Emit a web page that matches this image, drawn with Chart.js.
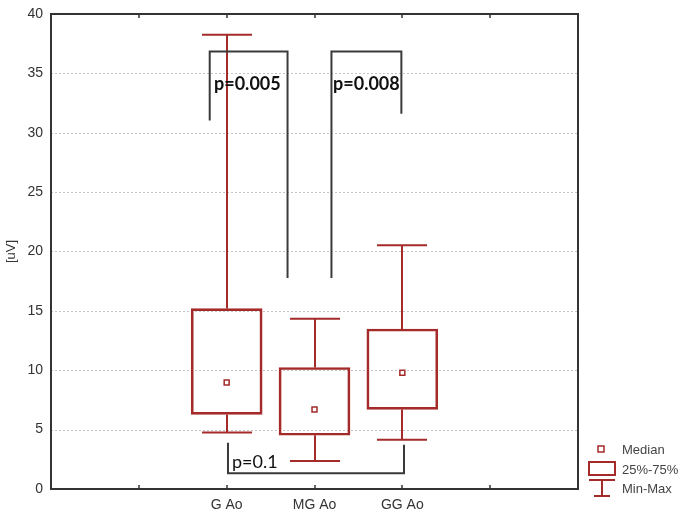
<!DOCTYPE html>
<html>
<head>
<meta charset="utf-8">
<script src="https://cdn.jsdelivr.net/npm/chart.js@4.4.1/dist/chart.umd.min.js"></script>
<style>
  html, body { margin: 0; padding: 0; background: #ffffff; }
  #wrap { width: 688px; height: 512px; position: relative; }
</style>
</head>
<body>
<div id="wrap"><canvas id="c" width="688" height="512"></canvas></div>
<script>
// ---- data ----
const categories = ['G Ao', 'MG Ao', 'GG Ao'];
const xTickLabels = ['', '', 'G Ao', 'MG Ao', 'GG Ao', '', ''];
const yTickValues = [0, 5, 10, 15, 20, 25, 30, 35, 40];
const minValues = [4.76, 2.35, 4.15];
const q1Values = [6.28, 4.53, 6.70];
const medianValues = [8.96, 6.70, 9.79];
const q3Values = [15.19, 10.23, 13.47];
const maxValues = [38.26, 14.33, 20.52];
const pValues = ['p=0.005', 'p=0.008', 'p=0.1'];
const legendLabels = ['Median', '25%-75%', 'Min-Max'];

// ---- styling / annotation geometry (data units) ----
const RED = '#a52a2a';
const INK = '#333333';
const catX = i => xTickLabels.indexOf(categories[i]);
const brackets = [
  { x1: 1.807, x2: 2.693, yBar: 36.85, yLeft: 31.04, yRight: 17.76, text: pValues[0], tx: 1.856, ty: 34.1, bold: true },
  { x1: 3.193, x2: 3.989, yBar: 36.85, yLeft: 17.76, yRight: 31.6, text: pValues[1], tx: 3.211, ty: 34.1, bold: true },
  { x1: 2.015, x2: 4.019, yBar: 1.33, yLeft: 3.89, yRight: 3.73, text: pValues[2], tx: 2.061, ty: 2.24, bold: false }
];

const boxPlugin = {
  id: 'boxExtras',
  beforeDatasetsDraw(chart) {
    const { ctx, chartArea: a, scales: { x, y } } = chart;
    ctx.save();
    // dotted horizontal grid
    ctx.strokeStyle = '#c4c4c4';
    ctx.lineWidth = 1;
    ctx.setLineDash([2, 2]);
    y.ticks.forEach(t => {
      if (t.value <= y.min || t.value >= y.max) return;
      const py = Math.round(y.getPixelForValue(t.value)) + 0.5;
      ctx.beginPath(); ctx.moveTo(a.left, py); ctx.lineTo(a.right, py); ctx.stroke();
    });
    ctx.setLineDash([]);
    // whiskers
    ctx.strokeStyle = RED;
    ctx.lineWidth = 2;
    categories.forEach((c, i) => {
      const px = Math.round(x.getPixelForValue(catX(i)));
      const segs = [[q3Values[i], maxValues[i]], [q1Values[i], minValues[i]]];
      segs.forEach(([from, to]) => {
        const p1 = y.getPixelForValue(from), p2 = y.getPixelForValue(to);
        ctx.beginPath(); ctx.moveTo(px, p1); ctx.lineTo(px, p2); ctx.stroke();
        ctx.beginPath(); ctx.moveTo(px - 25, p2); ctx.lineTo(px + 25, p2); ctx.stroke();
      });
    });
    ctx.restore();
  },
  afterDraw(chart) {
    const { ctx, chartArea: a, scales: { x, y } } = chart;
    ctx.save();
    // frame
    ctx.strokeStyle = INK;
    ctx.lineWidth = 2;
    ctx.strokeRect(a.left, a.top, a.right - a.left, a.bottom - a.top);
    // tick marks (inside, bottom and top)
    ctx.lineWidth = 1.5;
    x.ticks.forEach(t => {
      if (t.value <= x.min || t.value >= x.max) return;
      const px = Math.round(x.getPixelForValue(t.value));
      ctx.beginPath(); ctx.moveTo(px, a.bottom); ctx.lineTo(px, a.bottom - 4); ctx.stroke();
      ctx.beginPath(); ctx.moveTo(px, a.top); ctx.lineTo(px, a.top + 4); ctx.stroke();
    });
    // brackets
    ctx.strokeStyle = '#3a3a3a';
    ctx.lineWidth = 2;
    brackets.forEach(b => {
      const X1 = x.getPixelForValue(b.x1), X2 = x.getPixelForValue(b.x2);
      const Yb = y.getPixelForValue(b.yBar);
      ctx.beginPath();
      ctx.moveTo(X1, y.getPixelForValue(b.yLeft));
      ctx.lineTo(X1, Yb);
      ctx.lineTo(X2, Yb);
      ctx.lineTo(X2, y.getPixelForValue(b.yRight));
      ctx.stroke();
      ctx.fillStyle = '#111';
      ctx.font = (b.bold ? 'bold ' : '') + '18px Lato';
      ctx.textAlign = 'left';
      ctx.textBaseline = 'middle';
      ctx.fillText(b.text, x.getPixelForValue(b.tx), y.getPixelForValue(b.ty));
    });
    // legend
    const lx = a.right + 23;
    ctx.strokeStyle = RED;
    ctx.lineWidth = 1.5;
    ctx.fillStyle = '#fff';
    ctx.fillRect(lx - 3, 446, 6, 6);
    ctx.strokeRect(lx - 3, 446, 6, 6);
    ctx.lineWidth = 2;
    ctx.strokeRect(lx - 12, 462, 26, 13);
    ctx.beginPath();
    ctx.moveTo(lx - 12, 480); ctx.lineTo(lx + 14, 480);
    ctx.moveTo(lx + 1, 480); ctx.lineTo(lx + 1, 496);
    ctx.moveTo(lx - 7, 496); ctx.lineTo(lx + 9, 496);
    ctx.stroke();
    ctx.fillStyle = '#444';
    ctx.font = '13px "Liberation Sans", Arial, sans-serif';
    ctx.textAlign = 'left';
    ctx.textBaseline = 'middle';
    ctx.fillText(legendLabels[0], lx + 21, 450);
    ctx.fillText(legendLabels[1], lx + 21, 470);
    ctx.fillText(legendLabels[2], lx + 21, 489);
    ctx.restore();
  }
};

new Chart(document.getElementById('c'), {
  type: 'bar',
  data: {
    datasets: [
      {
        type: 'bar',
        label: legendLabels[1],
        data: categories.map((c, i) => ({ x: catX(i), y: [q1Values[i], q3Values[i]] })),
        barThickness: 71,
        borderColor: RED,
        borderWidth: 2,
        borderSkipped: false,
        backgroundColor: 'rgba(255,255,255,0)',
        order: 2
      },
      {
        type: 'scatter',
        label: legendLabels[0],
        data: categories.map((c, i) => ({ x: catX(i), y: medianValues[i] })),
        pointStyle: 'rect',
        radius: 3.5,
        borderWidth: 1.5,
        borderColor: RED,
        backgroundColor: '#ffffff',
        order: 1
      }
    ]
  },
  options: {
    responsive: false,
    animation: false,
    layout: { padding: { left: 0, right: 110, top: 0, bottom: 0 } },
    plugins: { legend: { display: false }, tooltip: { enabled: false } },
    scales: {
      x: {
        type: 'linear',
        offset: false,
        min: 0, max: xTickLabels.length - 1,
        grid: { display: false, drawTicks: false, offset: false },
        border: { display: false },
        ticks: {
          stepSize: 1,
          autoSkip: false,
          maxRotation: 0,
          padding: 8,
          color: '#333',
          font: { family: '"Liberation Sans", Arial, sans-serif', size: 14 },
          callback: v => xTickLabels[v] || ''
        },
        afterFit: s => { s.height = 23; }
      },
      y: {
        min: yTickValues[0], max: yTickValues[yTickValues.length - 1],
        grid: { display: false, drawTicks: false },
        border: { display: false },
        afterBuildTicks: s => { s.ticks = yTickValues.map(v => ({ value: v })); },
        ticks: {
          padding: 8,
          color: '#333',
          font: { family: '"Liberation Sans", Arial, sans-serif', size: 14, lineHeight: 0.857 }
        },
        title: {
          display: true,
          text: '[uV]',
          color: '#333',
          padding: { top: 4, bottom: 0 },
          font: { family: '"Liberation Sans", Arial, sans-serif', size: 13 }
        },
        afterFit: s => { s.width = 51; }
      }
    }
  },
  plugins: [boxPlugin]
});
</script>
</body>
</html>
